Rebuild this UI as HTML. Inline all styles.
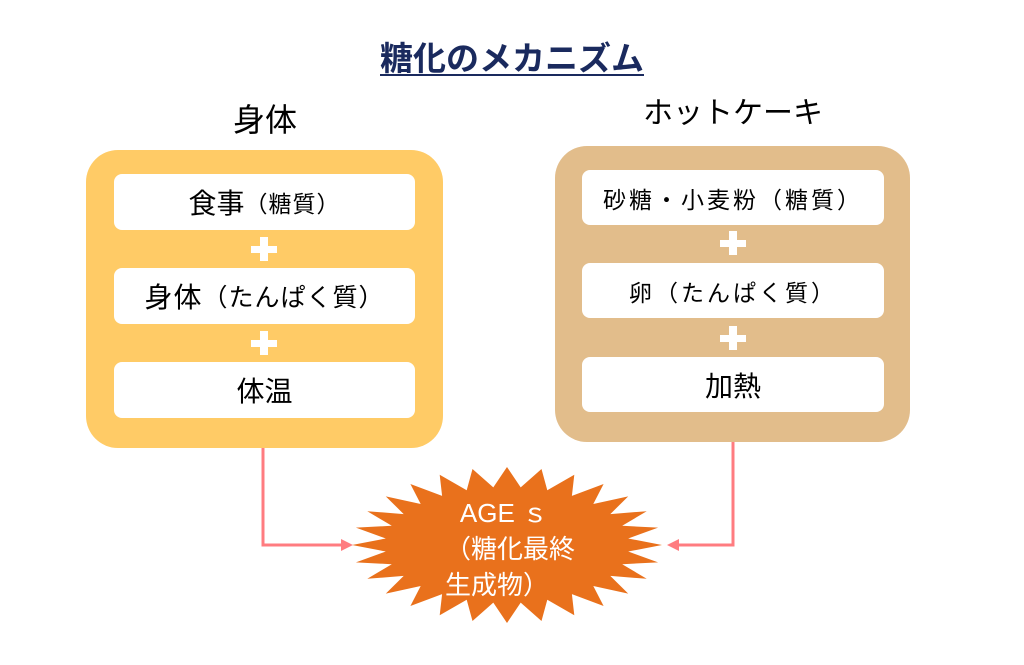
<!DOCTYPE html>
<html><head><meta charset="utf-8"><style>
body{margin:0;width:1024px;height:665px;background:#fff;position:relative;overflow:hidden;font-family:"Liberation Sans","Noto Sans CJK JP",sans-serif;}
.a{position:absolute}
.big{border-radius:32px}
.in{position:absolute;background:#fff;border-radius:8px;display:flex;align-items:center;justify-content:center;font-size:28px;color:#000}
.t{position:absolute;text-align:center;font-size:30px;color:#000}
</style></head><body>
<div class="t" style="left:262px;top:32px;width:500px;font-size:33px;font-weight:bold;color:#1a2a5e;text-decoration:underline;text-decoration-thickness:2px;text-underline-offset:4px">糖化のメカニズム</div>
<div class="t" style="left:165px;top:95px;width:200px;font-size:32px">身体</div>
<div class="t" style="left:593px;top:88px;width:280px">ホットケーキ</div>

<div class="a big" style="left:86px;top:150px;width:357px;height:298px;background:#FFCB66"></div>
<div class="in" style="left:114px;top:174px;width:301px;height:56px">食事<span style="font-size:23px;letter-spacing:1px">（糖質）</span></div>
<div class="in" style="left:114px;top:268px;width:301px;height:56px;letter-spacing:1px">身体<span style="font-size:25px">（たんぱく質）</span></div>
<div class="in" style="left:114px;top:362px;width:301px;height:56px">体温</div>

<div class="a big" style="left:555px;top:146px;width:355px;height:296px;background:#E2BD8B"></div>
<div class="in" style="left:582px;top:170px;width:302px;height:55px;font-size:23px;letter-spacing:3px">砂糖・小麦粉（糖質）</div>
<div class="in" style="left:582px;top:263px;width:302px;height:55px;font-size:23px;letter-spacing:3px">卵（たんぱく質）</div>
<div class="in" style="left:582px;top:357px;width:302px;height:55px">加熱</div>

<svg class="a" style="left:0;top:0" width="1024" height="665">
<g fill="#fff">
<rect x="251" y="246" width="26" height="7"/><rect x="260" y="237" width="8" height="24"/>
<rect x="251" y="340" width="26" height="7"/><rect x="260" y="331" width="8" height="24"/>
<rect x="720" y="240" width="26" height="7"/><rect x="729" y="231" width="8" height="24"/>
<rect x="720" y="335" width="26" height="7"/><rect x="729" y="326" width="8" height="24"/>
</g>
<polyline points="263,448 263,545 345,545" fill="none" stroke="#FF7C80" stroke-width="3"/>
<polygon points="353,545 341,539 341,551" fill="#FF7C80"/>
<polyline points="733,442 733,545 675,545" fill="none" stroke="#FF7C80" stroke-width="3"/>
<polygon points="667,545 679,539 679,551" fill="#FF7C80"/>
<polygon id="star" fill="#E9711C"/>
<text x="504" y="522" text-anchor="middle" fill="#fff" font-size="26" font-family="Liberation Sans, Noto Sans CJK JP, sans-serif">AGE ｓ</text>
<text x="510" y="558" text-anchor="middle" fill="#fff" font-size="26" font-family="Liberation Sans, Noto Sans CJK JP, sans-serif">（糖化最終</text>
<text x="497" y="594" text-anchor="middle" fill="#fff" font-size="26" font-family="Liberation Sans, Noto Sans CJK JP, sans-serif">生成物）</text>
</svg>
<script>
var p=[],n=28,cx=507,cy=545;
for(var i=0;i<n*2;i++){var a=Math.PI*i/n;var o=i%2==0;var rx=o?155:122,ry=o?78:58;p.push((cx+rx*Math.cos(a)).toFixed(1)+","+(cy+ry*Math.sin(a)).toFixed(1));}
document.getElementById("star").setAttribute("points",p.join(" "));
</script>
</body></html>
